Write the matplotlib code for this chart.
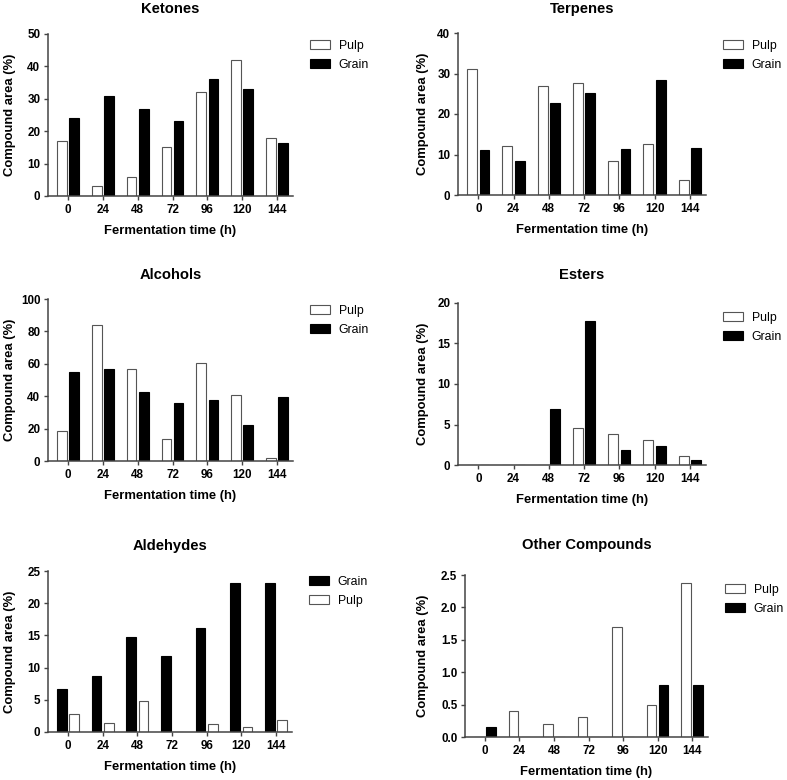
import matplotlib
matplotlib.use('Agg')
import matplotlib.pyplot as plt
import numpy as np

plt.rcParams['font.family'] = ['Liberation Sans', 'DejaVu Sans']

times = ['0', '24', '48', '72', '96', '120', '144']

titles = ['Ketones', 'Terpenes', 'Alcohols', 'Esters', 'Aldehydes', 'Other Compounds']

pulp = [
    [17, 3, 6, 15, 32, 42, 18],
    [31, 12, 27, 27.6, 8.4, 12.6, 3.8],
    [18.5, 84, 57, 13.5, 60.5, 41, 2],
    [0, 0, 0, 4.6, 3.8, 3.1, 1.1],
    [2.8, 1.4, 4.8, 0, 1.2, 0.8, 1.9],
    [0, 0.4, 0.2, 0.31, 1.7, 0.5, 2.37],
]
grain = [
    [24, 31, 27, 23, 36, 33, 16.5],
    [11.2, 8.4, 22.6, 25.1, 11.3, 28.3, 11.7],
    [55, 57, 42.5, 36, 37.5, 22, 39.5],
    [0, 0, 6.9, 17.8, 1.9, 2.3, 0.6],
    [6.7, 8.7, 14.7, 11.8, 16.2, 23.2, 23.2],
    [0.16, 0, 0, 0, 0, 0.8, 0.8],
]
# grain drawn first (left) only for aldehydes
grain_first = [False, False, False, False, True, False]

y_top = [50, 40, 100, 20, 25, 2.5]
y_step = [10, 10, 20, 5, 5, 0.5]

# axes boxes in pixels: left, right, top, bottom
boxes = [
    (48, 293, 34, 196),
    (458, 706, 33, 195),
    (48, 293, 299, 461),
    (458, 706, 303, 465),
    (48, 292, 571, 732),
    (465, 708, 575, 737),
]
title_y = [9, 9, 275, 275, 546, 545]
ylabel_x = [16, 429, 16, 429, 16, 429]   # right edge of rotated y label
legend_dy = [8, 9, 8, 11, 7, 11]

W, H = 787, 780
fig = plt.figure(figsize=(W / 100, H / 100), dpi=100)

spine_col = '#444444'
edge_col = '#555555'
x = np.arange(len(times))
bw = 0.28
off = 0.175

for i in range(6):
    l, r, t, b = boxes[i]
    ax = fig.add_axes([l / W, (H - b) / H, (r - l) / W, (b - t) / H])
    wpx, hpx = r - l, b - t

    if grain_first[i]:
        ax.bar(x - off, grain[i], bw, color='black', edgecolor='black',
               linewidth=0.8, label='Grain')
        ax.bar(x + off, pulp[i], bw, color='white', edgecolor=edge_col,
               linewidth=0.8, label='Pulp')
    else:
        ax.bar(x - off, pulp[i], bw, color='white', edgecolor=edge_col,
               linewidth=0.8, label='Pulp')
        ax.bar(x + off, grain[i], bw, color='black', edgecolor='black',
               linewidth=0.8, label='Grain')

    ax.set_xlim(-0.576, 6.46)
    ax.set_ylim(0, y_top[i])
    ax.set_xticks(x)
    ax.set_xticklabels(times)
    ticks = np.arange(0, y_top[i] + y_step[i] / 2, y_step[i])
    ax.set_yticks(ticks)
    if y_top[i] < 5:
        ax.set_yticklabels(['%.1f' % v for v in ticks])
    else:
        ax.set_yticklabels(['%d' % v for v in ticks])

    for s in ['top', 'right']:
        ax.spines[s].set_visible(False)
    for s in ['left', 'bottom']:
        ax.spines[s].set_color(spine_col)
        ax.spines[s].set_linewidth(1.1)
    ax.tick_params(direction='out', length=3, width=1.0, color=spine_col,
                   labelsize=8.4, pad=2.5)
    for lab in ax.get_xticklabels() + ax.get_yticklabels():
        lab.set_fontweight('bold')

    ax.set_xlabel('Fermentation time (h)', fontsize=9.4, fontweight='bold')
    ax.xaxis.set_label_coords(0.5, -29 / hpx)
    ax.set_ylabel('Compound area (%)', fontsize=9.4, fontweight='bold')
    ax.yaxis.set_label_coords(ylabel_x[i] / W, (H - (t + b) / 2) / H,
                              transform=fig.transFigure)

    fig.text((l + r) / 2 / W, (H - title_y[i]) / H, titles[i],
             ha='center', va='center', fontsize=10.6, fontweight='bold')

    ax.legend(loc='upper left',
              bbox_to_anchor=(1 + 17 / wpx, 1 - (legend_dy[i] - 2) / hpx),
              frameon=False, fontsize=8.8, handlelength=1.6, handleheight=0.8,
              handletextpad=0.75, labelspacing=0.55, borderaxespad=0,
              borderpad=0)

fig.savefig('out.png', dpi=100)
